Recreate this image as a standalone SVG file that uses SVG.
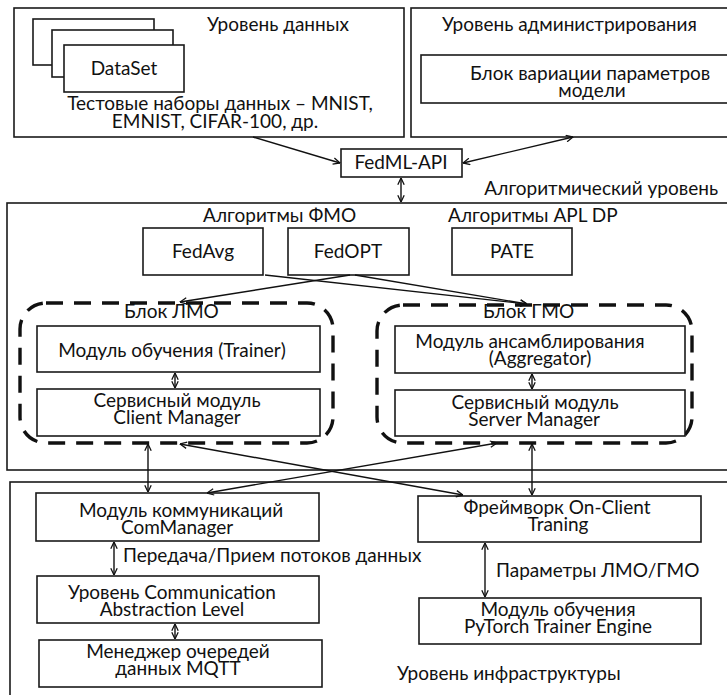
<svg xmlns="http://www.w3.org/2000/svg" width="727" height="695" viewBox="0 0 727 695">
  <defs>
    <marker id="ah" viewBox="0 0 10 10" refX="9.5" refY="5" markerWidth="8" markerHeight="8" markerUnits="userSpaceOnUse" orient="auto-start-reverse">
      <path d="M1,1 L9.5,5 L1,9" fill="none" stroke="#111" stroke-width="1.6"/>
    </marker>
    <style>
      .layer { fill: #fff; stroke: #1a1a1a; stroke-width: 1.6; }
      .box { fill: #fff; stroke: #1a1a1a; stroke-width: 1.6; }
      .dash { fill: none; stroke: #111; stroke-width: 3.4; stroke-dasharray: 17 11; }
      .t { font-family: Lato, "Open Sans", "Noto Sans", sans-serif; font-size: 19px; fill: #111; }
      .c { text-anchor: middle; }
      .e { text-anchor: end; }
      .con { fill: none; stroke: #111; stroke-width: 1.4; marker-end: url(#ah); }
      .bi { marker-start: url(#ah); }
    </style>
  </defs>

  <!-- layers -->
  <g id="layer-data">
    <rect class="layer" x="14" y="8" width="390" height="129"/>
    <text class="t" x="207" y="31">Уровень данных</text>
    <text class="t c" x="220" y="110">Тестовые наборы данных – MNIST,</text>
    <text class="t c" x="215" y="128">EMNIST, CIFAR-100, др.</text>
  </g>
  <g id="dataset">
    <rect class="box" x="33" y="19" width="121" height="46"/>
    <rect class="box" x="52" y="30" width="121" height="47"/>
    <rect class="box" x="64" y="45" width="120" height="47"/>
    <text class="t c" x="124" y="75">DataSet</text>
  </g>

  <g id="layer-admin">
    <rect class="layer" x="411" y="8" width="330" height="129"/>
    <text class="t" x="442" y="31">Уровень администрирования</text>
  </g>
  <g id="param-variation">
    <rect class="box" x="421" y="55" width="320" height="48"/>
    <text class="t" x="470" y="80">Блок вариации параметров</text>
    <text class="t c" x="592" y="97">модели</text>
  </g>

  <g id="fedml-api">
    <rect class="box" x="341" y="149" width="121" height="28"/>
    <text class="t c" x="401" y="169">FedML-API</text>
  </g>

  <g id="layer-algo">
    <rect class="layer" x="7" y="203" width="735" height="267"/>
    <text class="t e" x="718" y="195">Алгоритмический уровень</text>
    <text class="t" x="203" y="222">Алгоритмы ФМО</text>
    <text class="t" x="448" y="222">Алгоритмы APL DP</text>
  </g>
  <g id="fedavg">
    <rect class="box" x="143" y="228" width="120" height="47"/>
    <text class="t c" x="203" y="258">FedAvg</text>
  </g>
  <g id="fedopt">
    <rect class="box" x="288" y="228" width="121" height="47"/>
    <text class="t c" x="348" y="258">FedOPT</text>
  </g>
  <g id="pate">
    <rect class="box" x="452" y="228" width="120" height="47"/>
    <text class="t c" x="512" y="258">PATE</text>
  </g>

  <g id="block-lmo">
    <rect class="dash" x="20" y="303" width="313" height="140" rx="26"/>
    <text class="t" x="124" y="318">Блок ЛМО</text>
  </g>
  <g id="trainer">
    <rect class="box" x="37" y="326" width="283" height="46"/>
    <text class="t c" x="172" y="357">Модуль обучения (Trainer)</text>
  </g>
  <g id="client-manager">
    <rect class="box" x="37" y="389" width="283" height="47"/>
    <text class="t c" x="177" y="407">Сервисный модуль</text>
    <text class="t c" x="177" y="424">Client Manager</text>
  </g>

  <g id="block-gmo">
    <rect class="dash" x="377" y="305" width="315" height="138" rx="26"/>
    <text class="t" x="483" y="318">Блок ГМО</text>
  </g>
  <g id="aggregator">
    <rect class="box" x="395" y="326" width="290" height="47"/>
    <text class="t c" x="530" y="348">Модуль ансамблирования</text>
    <text class="t c" x="540" y="365">(Aggregator)</text>
  </g>
  <g id="server-manager">
    <rect class="box" x="395" y="390" width="290" height="46"/>
    <text class="t c" x="535" y="409">Сервисный модуль</text>
    <text class="t c" x="534" y="426">Server Manager</text>
  </g>

  <g id="layer-infra">
    <rect class="layer" x="10" y="482" width="732" height="230"/>
    <text class="t" x="397" y="680">Уровень инфраструктуры</text>
  </g>
  <g id="com-manager">
    <rect class="box" x="36" y="493" width="283" height="48"/>
    <text class="t c" x="181" y="517">Модуль коммуникаций</text>
    <text class="t c" x="177" y="534">ComManager</text>
  </g>
  <g id="comm-abstraction">
    <rect class="box" x="37" y="576" width="282" height="47"/>
    <text class="t c" x="172" y="599">Уровень Communication</text>
    <text class="t c" x="172" y="616">Abstraction Level</text>
  </g>
  <g id="mqtt">
    <rect class="box" x="39" y="640" width="283" height="47"/>
    <text class="t c" x="178" y="658">Менеджер очередей</text>
    <text class="t c" x="178" y="675">данных MQTT</text>
  </g>
  <g id="on-client">
    <rect class="box" x="418" y="496" width="283" height="46"/>
    <text class="t c" x="557" y="514">Фреймворк On-Client</text>
    <text class="t c" x="558" y="531">Traning</text>
  </g>
  <g id="pytorch">
    <rect class="box" x="419" y="598" width="282" height="46"/>
    <text class="t c" x="558" y="616">Модуль обучения</text>
    <text class="t c" x="558" y="633">PyTorch Trainer Engine</text>
  </g>

  <!-- connectors -->
  <g id="connectors">
    <line class="con" x1="253" y1="137" x2="340" y2="163"/>
    <line class="con bi" x1="463" y1="163" x2="573" y2="137"/>
    <line class="con bi" x1="401" y1="178" x2="401" y2="202"/>

    <line class="con" x1="350" y1="275" x2="180" y2="302"/>
    <line class="con" x1="265" y1="275" x2="527" y2="304"/>
    <line class="con" x1="355" y1="275" x2="527" y2="304"/>

    <line class="con bi" x1="175" y1="373" x2="175" y2="388"/>
    <line class="con bi" x1="532" y1="374" x2="532" y2="389"/>

    <line class="con bi" x1="148" y1="444" x2="148" y2="492"/>
    <line class="con bi" x1="180" y1="444" x2="463" y2="495"/>
    <line class="con bi" x1="497" y1="443" x2="207" y2="493"/>
    <line class="con bi" x1="532" y1="444" x2="532" y2="495"/>

    <line class="con bi" x1="114" y1="542" x2="114" y2="575"/>
    <text class="t" x="123" y="562">Передача/Прием потоков данных</text>
    <line class="con bi" x1="175" y1="624" x2="175" y2="639"/>
    <line class="con bi" x1="485" y1="543" x2="485" y2="597"/>
    <text class="t" x="496" y="577">Параметры ЛМО/ГМО</text>
  </g>
</svg>
